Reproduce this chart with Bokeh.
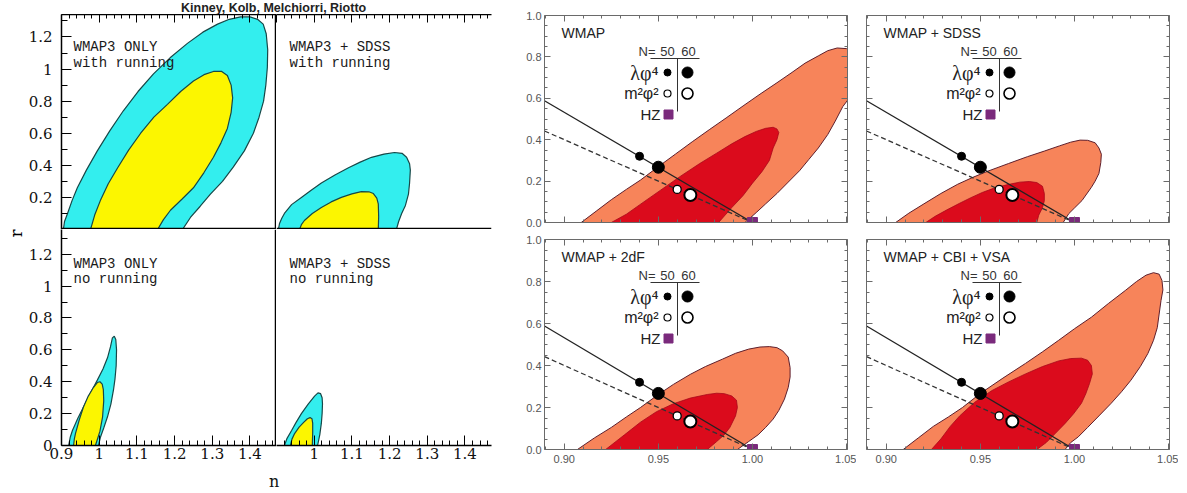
from bokeh.plotting import figure
from bokeh.layouts import row, column
from bokeh.models import (Range1d, LinearAxis, FixedTicker, CustomJSTickFormatter,
                          PrintfTickFormatter, Span, Label, Div, Title)
from bokeh.embed import file_html
from bokeh.resources import INLINE

# ---------------- LEFT BLOCK DATA (n, r) ----------------
tl_outer_n = [0.905, 0.908, 0.916, 0.928, 0.942, 0.966, 0.995, 1.028, 1.064, 1.103, 1.144, 1.188, 1.234, 1.275, 1.314, 1.345, 1.375, 1.400, 1.420, 1.435, 1.443, 1.447, 1.446, 1.442, 1.436, 1.424, 1.409, 1.385, 1.356, 1.327, 1.295, 1.268, 1.242, 1.221]
tl_outer_r = [0.0, 0.05, 0.10, 0.18, 0.26, 0.37, 0.49, 0.615, 0.74, 0.86, 0.97, 1.07, 1.16, 1.23, 1.28, 1.31, 1.325, 1.325, 1.31, 1.28, 1.22, 1.12, 1.01, 0.90, 0.80, 0.70, 0.60, 0.49, 0.39, 0.30, 0.22, 0.145, 0.075, 0.0]
tl_inner_n = [0.977, 0.988, 1.003, 1.024, 1.049, 1.078, 1.110, 1.145, 1.181, 1.216, 1.250, 1.278, 1.303, 1.325, 1.340, 1.350, 1.354, 1.350, 1.340, 1.323, 1.303, 1.278, 1.250, 1.220, 1.189, 1.170, 1.155]
tl_inner_r = [0.0, 0.09, 0.18, 0.285, 0.385, 0.495, 0.60, 0.70, 0.78, 0.86, 0.925, 0.965, 0.985, 0.985, 0.96, 0.90, 0.82, 0.73, 0.63, 0.54, 0.45, 0.355, 0.26, 0.19, 0.12, 0.06, 0.0]

tr_outer_n = [0.905, 0.908, 0.914, 0.921, 0.940, 0.966, 0.992, 1.019, 1.055, 1.091, 1.122, 1.152, 1.185, 1.213, 1.233, 1.245, 1.253, 1.255, 1.253, 1.250, 1.242, 1.232, 1.224, 1.218]
tr_outer_r = [0.0, 0.037, 0.07, 0.10, 0.155, 0.20, 0.245, 0.29, 0.34, 0.385, 0.42, 0.45, 0.47, 0.48, 0.475, 0.45, 0.41, 0.37, 0.29, 0.22, 0.15, 0.10, 0.05, 0.0]
tr_inner_n = [0.961, 0.966, 0.974, 0.995, 1.019, 1.045, 1.072, 1.100, 1.125, 1.145, 1.157, 1.166, 1.170, 1.171, 1.170]
tr_inner_r = [0.0, 0.03, 0.056, 0.10, 0.137, 0.172, 0.20, 0.222, 0.236, 0.235, 0.224, 0.195, 0.16, 0.08, 0.0]

bl_outer_n = [0.919, 0.923, 0.929, 0.943, 0.958, 0.976, 0.995, 1.010, 1.022, 1.030, 1.035, 1.040, 1.044, 1.046, 1.045, 1.042, 1.038, 1.031, 1.022, 1.012, 1.003, 0.998]
bl_outer_r = [0.0, 0.05, 0.094, 0.17, 0.24, 0.325, 0.41, 0.48, 0.55, 0.62, 0.675, 0.685, 0.665, 0.60, 0.50, 0.42, 0.35, 0.26, 0.18, 0.11, 0.05, 0.0]
bl_inner_n = [0.932, 0.934, 0.937, 0.947, 0.958, 0.971, 0.985, 0.995, 1.002, 1.008, 1.011, 1.012, 1.009, 1.002, 0.994, 0.990]
bl_inner_r = [0.0, 0.04, 0.075, 0.16, 0.24, 0.31, 0.365, 0.395, 0.40, 0.385, 0.35, 0.28, 0.18, 0.09, 0.03, 0.0]

br_outer_n = [0.921, 0.928, 0.940, 0.952, 0.966, 0.984, 1.001, 1.010, 1.017, 1.021, 1.022, 1.021, 1.019, 1.015, 1.009]
br_outer_r = [0.0, 0.045, 0.094, 0.145, 0.20, 0.26, 0.31, 0.33, 0.325, 0.30, 0.26, 0.20, 0.14, 0.07, 0.0]
br_inner_n = [0.937, 0.941, 0.948, 0.960, 0.972, 0.982, 0.989, 0.994, 0.996, 0.996, 0.995]
br_inner_r = [0.0, 0.04, 0.075, 0.115, 0.145, 0.168, 0.175, 0.168, 0.14, 0.08, 0.0]

left_labels = [("WMAP3 ONLY", "with running"), ("WMAP3 + SDSS", "with running"),
               ("WMAP3 ONLY", "no running"), ("WMAP3 + SDSS", "no running")]
left_title = "Kinney, Kolb, Melchiorri, Riotto"
left_xlabel = "n"
left_ylabel = "r"
left_x_major = [0.9, 1.0, 1.1, 1.2, 1.3, 1.4]
left_x_major_br = [1.0, 1.1, 1.2, 1.3, 1.4]
left_x_minor = [0.92, 0.94, 0.96, 0.98, 1.02, 1.04, 1.06, 1.08, 1.12, 1.14, 1.16, 1.18,
                1.22, 1.24, 1.26, 1.28, 1.32, 1.34, 1.36, 1.38, 1.42, 1.44, 1.46]
left_y_major_top = [0.2, 0.4, 0.6, 0.8, 1.0, 1.2]
left_y_major_bot = [0.0, 0.2, 0.4, 0.6, 0.8, 1.0, 1.2]
left_y_minor = [0.1, 0.3, 0.5, 0.7, 0.9, 1.1, 1.3]

# ---------------- RIGHT BLOCK DATA (n_s, r) ----------------
wmap_outer_n = [0.909, 0.917, 0.925, 0.933, 0.9405, 0.950, 0.959, 0.968, 0.977, 0.986, 0.995, 1.004, 1.013, 1.021, 1.028, 1.035, 1.040, 1.045, 1.050, 1.054, 1.057, 1.058, 1.057, 1.053, 1.048, 1.044, 1.040, 1.035, 1.030, 1.025, 1.019, 1.013, 1.007, 1.002, 0.996]
wmap_outer_r = [0.0, 0.055, 0.11, 0.16, 0.205, 0.27, 0.33, 0.39, 0.448, 0.505, 0.563, 0.62, 0.675, 0.725, 0.77, 0.805, 0.83, 0.843, 0.84, 0.82, 0.78, 0.72, 0.67, 0.62, 0.56, 0.49, 0.425, 0.36, 0.305, 0.25, 0.195, 0.14, 0.09, 0.048, 0.0]
wmap_inner_n = [0.925, 0.933, 0.940, 0.951, 0.962, 0.972, 0.981, 0.989, 0.996, 1.002, 1.007, 1.011, 1.013, 1.014, 1.013, 1.011, 1.009, 1.005, 1.000, 0.995, 0.989, 0.982]
wmap_inner_r = [0.0, 0.04, 0.085, 0.155, 0.225, 0.285, 0.335, 0.38, 0.415, 0.44, 0.455, 0.46, 0.452, 0.435, 0.40, 0.36, 0.30, 0.245, 0.19, 0.13, 0.072, 0.0]

sdss_outer_n = [0.905, 0.912, 0.920, 0.929, 0.938, 0.946, 0.954, 0.965, 0.975, 0.984, 0.992, 0.998, 1.003, 1.007, 1.011, 1.013, 1.0143, 1.014, 1.013, 1.011, 1.009, 1.004, 1.000, 0.997, 0.994]
sdss_outer_r = [0.0, 0.045, 0.09, 0.14, 0.185, 0.218, 0.248, 0.285, 0.318, 0.345, 0.37, 0.388, 0.398, 0.397, 0.385, 0.36, 0.33, 0.29, 0.237, 0.20, 0.17, 0.106, 0.07, 0.043, 0.0]
sdss_inner_n = [0.921, 0.926, 0.932, 0.939, 0.945, 0.951, 0.957, 0.964, 0.971, 0.976, 0.980, 0.983, 0.984, 0.984, 0.983, 0.981, 0.980]
sdss_inner_r = [0.0, 0.03, 0.06, 0.093, 0.12, 0.145, 0.165, 0.182, 0.195, 0.198, 0.193, 0.175, 0.14, 0.105, 0.072, 0.035, 0.0]

tdf_outer_n = [0.907, 0.916, 0.925, 0.933, 0.9405, 0.950, 0.958, 0.967, 0.975, 0.984, 0.991, 0.998, 1.004, 1.009, 1.013, 1.016, 1.019, 1.020, 1.020, 1.019, 1.017, 1.014, 1.011, 1.007, 1.003, 0.998, 0.992]
tdf_outer_r = [0.0, 0.055, 0.105, 0.155, 0.20, 0.262, 0.31, 0.358, 0.395, 0.43, 0.458, 0.478, 0.488, 0.49, 0.485, 0.47, 0.44, 0.39, 0.345, 0.295, 0.24, 0.186, 0.145, 0.105, 0.07, 0.038, 0.0]
tdf_inner_n = [0.922, 0.927, 0.932, 0.9405, 0.949, 0.958, 0.967, 0.976, 0.981, 0.985, 0.989, 0.9915, 0.992, 0.991, 0.988, 0.985, 0.981, 0.976]
tdf_inner_r = [0.0, 0.035, 0.07, 0.13, 0.18, 0.218, 0.245, 0.262, 0.268, 0.266, 0.255, 0.235, 0.20, 0.16, 0.105, 0.07, 0.038, 0.0]

cbi_outer_n = [0.909, 0.917, 0.925, 0.933, 0.9405, 0.950, 0.962, 0.974, 0.983, 0.9916, 1.000, 1.009, 1.018, 1.027, 1.033, 1.038, 1.042, 1.045, 1.0465, 1.047, 1.046, 1.045, 1.044, 1.042, 1.039, 1.035, 1.030, 1.025, 1.0195, 1.013, 1.007, 1.002, 0.998, 0.995]
cbi_outer_r = [0.0, 0.055, 0.11, 0.155, 0.20, 0.267, 0.34, 0.41, 0.465, 0.52, 0.575, 0.63, 0.695, 0.757, 0.80, 0.83, 0.842, 0.835, 0.805, 0.76, 0.71, 0.645, 0.58, 0.52, 0.457, 0.395, 0.33, 0.275, 0.22, 0.16, 0.105, 0.06, 0.033, 0.0]
cbi_inner_n = [0.924, 0.929, 0.934, 0.939, 0.947, 0.956, 0.965, 0.974, 0.983, 0.9916, 0.998, 1.0037, 1.007, 1.009, 1.0095, 1.008, 1.006, 1.0037, 0.9995, 0.995, 0.990, 0.985, 0.980]
cbi_inner_r = [0.0, 0.05, 0.11, 0.16, 0.225, 0.28, 0.322, 0.36, 0.395, 0.422, 0.433, 0.435, 0.425, 0.40, 0.36, 0.314, 0.265, 0.22, 0.17, 0.124, 0.078, 0.033, 0.0]

right_titles = ["WMAP", "WMAP + SDSS", "WMAP + 2dF", "WMAP + CBI + VSA"]

lam_line_n = [0.8895, 1.0]
lam_line_r = [0.588, 0.0]
m2_line_n = [0.8895, 1.0]
m2_line_r = [0.442, 0.0]
lam_n = [0.940, 0.950]
lam_r = [0.32, 0.267]
m2_n = [0.960, 0.967]
m2_r = [0.16, 0.133]
hz_n = [1.0]
hz_r = [0.0]
N_values = ["50", "60"]

right_x_major = [0.90, 0.95, 1.00, 1.05]
right_x_minor = [0.89, 0.91, 0.92, 0.93, 0.94, 0.96, 0.97, 0.98, 0.99, 1.01, 1.02, 1.03, 1.04]
right_y_major = [0.0, 0.2, 0.4, 0.6, 0.8, 1.0]
right_y_minor = [0.05, 0.1, 0.15, 0.25, 0.3, 0.35, 0.45, 0.5, 0.55, 0.65, 0.7, 0.75, 0.85, 0.9, 0.95]

# ---------------- styles ----------------
CYAN = "#33eeee"
YELLOW = "#fcf600"
LEDGE = "#174848"
ORANGE = "#f7845a"
RED = "#db0b1c"
REDGE = "#5e1f2c"
PURPLE = "#7a2a7c"
RGRAY = "#6a6a6a"

LXR = (0.9, 1.4703)
LTY = (0.0, 1.34)
LBY = (0.0, 1.355)
RXR = (0.8895, 1.0505)
RYR = (0.0, 1.0)

empty_fmt = CustomJSTickFormatter(code="return '';")
jsfmt = CustomJSTickFormatter(code="return tick.toString();")


def base_fig(w, h, xr, yr, bl, br, bt, bb):
    p = figure(width=w, height=h, x_range=Range1d(*xr), y_range=Range1d(*yr),
               output_backend="svg", toolbar_location=None,
               x_axis_location=None, y_axis_location=None,
               min_border_left=bl, min_border_right=br,
               min_border_top=bt, min_border_bottom=bb)
    p.xgrid.visible = False
    p.ygrid.visible = False
    p.outline_line_color = None
    p.background_fill_color = "white"
    p.border_fill_color = "white"
    return p


def add_axis(p, side, ticks, minor, labels, fmt=None, font="DejaVu Serif", size="15px",
             color="#111", line_color="black", lw=1.5, maj_in=9, min_in=5, standoff=3):
    ax = LinearAxis(ticker=FixedTicker(ticks=ticks, minor_ticks=minor))
    ax.major_tick_in = maj_in
    ax.major_tick_out = 0
    ax.minor_tick_in = min_in
    ax.minor_tick_out = 0
    ax.axis_line_color = line_color
    ax.axis_line_width = lw
    ax.major_tick_line_color = line_color
    ax.minor_tick_line_color = line_color
    ax.major_tick_line_width = 1
    ax.minor_tick_line_width = 1
    if labels:
        if fmt is not None:
            ax.formatter = fmt
        ax.major_label_text_font = font
        ax.major_label_text_font_size = size
        ax.major_label_text_color = color
        ax.major_label_standoff = standoff
    else:
        ax.formatter = empty_fmt
        ax.major_label_text_font_size = "1px"
        ax.major_label_standoff = 0
    p.add_layout(ax, side)
    return ax


def left_panel(w, h, bl, br, bb, yr, on, orr, inn, inr, labs, top_row, left_col):
    p = base_fig(w, h, LXR, yr, bl, br, 0, bb)
    p.patch(on, orr, fill_color=CYAN, line_color=LEDGE, line_width=1.2)
    p.patch(inn, inr, fill_color=YELLOW, line_color=LEDGE, line_width=1.2)
    ppx = 215 / (LXR[1] - LXR[0])
    fh = h - bb
    ppy = fh / (yr[1] - yr[0])
    x0 = LXR[0] + (12 if left_col else 13) / ppx
    off1, off2 = (24, 40) if top_row else (26, 41)
    for txt, off in ((labs[0], off1), (labs[1], off2)):
        p.add_layout(Label(x=x0, y=yr[1] - off / ppy, text=txt, text_font="Liberation Mono",
                           text_font_size="14px", text_color="#1a1a1a", text_baseline="top",
                           text_align="left"))
    ymaj = left_y_major_top if top_row else left_y_major_bot
    if left_col:
        add_axis(p, "left", ymaj, left_y_minor, True, fmt=jsfmt, maj_in=10, min_in=6, standoff=9)
        p.add_layout(Span(location=LXR[1], dimension="height", line_color="black", line_width=3.5))
    if top_row:
        add_axis(p, "above", left_x_major, left_x_minor, False, maj_in=8, min_in=4)
        p.add_layout(Span(location=yr[0], dimension="width", line_color="black", line_width=3.5))
    else:
        xt = left_x_major if left_col else left_x_major_br
        add_axis(p, "below", xt, left_x_minor, True, fmt=jsfmt, maj_in=10, min_in=5, standoff=2)
    return p


tl = left_panel(276, 215, 61, 0, 0, LTY, tl_outer_n, tl_outer_r, tl_inner_n, tl_inner_r, left_labels[0], True, True)
tr = left_panel(224, 215, 0, 9, 0, LTY, tr_outer_n, tr_outer_r, tr_inner_n, tr_inner_r, left_labels[1], True, False)
bl = left_panel(276, 245, 61, 0, 29, LBY, bl_outer_n, bl_outer_r, bl_inner_n, bl_inner_r, left_labels[2], False, True)
br = left_panel(224, 245, 0, 9, 29, LBY, br_outer_n, br_outer_r, br_inner_n, br_inner_r, left_labels[3], False, False)

# y axis label "r" as a left title at the top of the lower-left panel (page x ~10, y ~232)
bl.add_layout(Title(text=left_ylabel, align="right", text_font="DejaVu Serif", text_font_size="16px",
                    text_font_style="normal", text_color="#000000", standoff=0, offset=0), "left")

title_div = Div(text='<div style="font-family:\'Liberation Sans\';font-weight:bold;font-size:12.5px;'
                     'line-height:10px;white-space:nowrap;color:#222;">'
                     + left_title + '</div>',
                width=220, height=14, margin=(0, 0, 0, 181))
n_div = Div(text='<div style="font-family:\'DejaVu Serif\';font-size:16px;line-height:16px;'
                 'color:#111;">' + left_xlabel + '</div>',
            width=20, height=16, margin=(0, 0, 0, 269))

left_block = column(title_div, row(tl, tr), row(bl, br), n_div)


# ---------------- right block ----------------
def right_panel(ci, ri, title, on, orr, inn, inr):
    blb = 44 if ci == 0 else 10
    fw = 303
    w = blb + fw + 9
    bt, fh, bb = (15, 207, 10) if ri == 0 else (7, 210, 41)
    h = bt + fh + bb
    p = base_fig(w, h, RXR, RYR, blb, 9, bt, bb)
    p.patch(on, orr, fill_color=ORANGE, line_color=REDGE, line_width=1)
    p.patch(inn, inr, fill_color=RED, line_color="#a8081a", line_width=0.8)
    p.line(lam_line_n, lam_line_r, line_color="#222", line_width=1.3)
    p.line(m2_line_n, m2_line_r, line_color="#333", line_width=1.3, line_dash="5 3")
    p.scatter(lam_n, lam_r, size=[8, 12], fill_color="black", line_color="black")
    p.scatter(m2_n, m2_r, size=[8, 12], fill_color="white", line_color="black", line_width=[1.3, 2.0])
    p.scatter(hz_n, hz_r, marker="square", size=10, fill_color=PURPLE, line_color=PURPLE)

    add_axis(p, "left", right_y_major, right_y_minor, ci == 0, fmt=PrintfTickFormatter(format="%.1f"),
             font="Liberation Sans", size="11px", color="#555", line_color=RGRAY, lw=1,
             maj_in=6, min_in=3, standoff=3)
    add_axis(p, "right", right_y_major, right_y_minor, False, line_color=RGRAY, lw=1, maj_in=6, min_in=3)
    add_axis(p, "above", right_x_major, right_x_minor, False, line_color=RGRAY, lw=1, maj_in=6, min_in=3)
    add_axis(p, "below", right_x_major, right_x_minor, ri == 1, fmt=PrintfTickFormatter(format="%.2f"),
             font="Liberation Sans", size="11px", color="#555", line_color=RGRAY, lw=1,
             maj_in=6, min_in=3, standoff=5)

    ppx = fw / (RXR[1] - RXR[0])
    ppy = fh / (RYR[1] - RYR[0])

    def X(dx):
        return RXR[0] + dx / ppx

    def Y(dy):
        return RYR[1] - dy / ppy

    p.add_layout(Label(x=X(17), y=Y(9), text=title, text_font="Liberation Sans",
                       text_font_size="14px", text_color="#222", text_baseline="top"))
    # legend
    p.add_layout(Label(x=X(111), y=Y(36), text="N=", text_font="Liberation Sans",
                       text_font_size="13px", text_color="#333", text_align="right",
                       text_baseline="middle"))
    for val, dx in zip(N_values, (123, 144)):
        p.add_layout(Label(x=X(dx), y=Y(36), text=val, text_font="Liberation Sans",
                           text_font_size="13px", text_color="#333", text_align="center",
                           text_baseline="middle"))
    p.segment(x0=[X(106), X(133)], y0=[Y(43), Y(43)], x1=[X(155), X(133)], y1=[Y(43), Y(96)],
              line_color="#333", line_width=1)
    p.add_layout(Label(x=X(114), y=Y(57), text="λφ⁴", text_font="Liberation Serif",
                       text_font_size="20px", text_color="#222", text_align="right",
                       text_baseline="middle"))
    p.scatter([X(123), X(143)], [Y(57), Y(57)], size=[7, 11], fill_color="black", line_color="black")
    p.add_layout(Label(x=X(114), y=Y(78), text="m²φ²", text_font="Liberation Sans",
                       text_font_size="16px", text_color="#222", text_align="right",
                       text_baseline="middle"))
    p.scatter([X(123), X(143)], [Y(78), Y(78)], size=[7, 11], fill_color="white",
              line_color="black", line_width=[1.2, 1.6])
    p.add_layout(Label(x=X(116), y=Y(99), text="HZ", text_font="Liberation Sans",
                       text_font_size="15px", text_color="#222", text_align="right",
                       text_baseline="middle"))
    p.scatter([X(124)], [Y(99)], marker="square", size=9, fill_color=PURPLE, line_color=PURPLE)

    if ri == 1:
        cx = (RXR[0] + RXR[1]) / 2
        p.add_layout(Label(x=cx, y=-(32 / ppy), text="n", text_font="DejaVu Sans",
                           text_font_style="italic", text_font_size="16px", text_color="#444",
                           text_align="center", text_baseline="middle"))
        p.add_layout(Label(x=cx + 7 / ppx, y=-(35 / ppy), text="s", text_font="DejaVu Sans",
                           text_font_style="italic", text_font_size="10px", text_color="#444",
                           text_align="center", text_baseline="middle"))
    return p


p_wmap = right_panel(0, 0, right_titles[0], wmap_outer_n, wmap_outer_r, wmap_inner_n, wmap_inner_r)
p_sdss = right_panel(1, 0, right_titles[1], sdss_outer_n, sdss_outer_r, sdss_inner_n, sdss_inner_r)
p_2df = right_panel(0, 1, right_titles[2], tdf_outer_n, tdf_outer_r, tdf_inner_n, tdf_inner_r)
p_cbi = right_panel(1, 1, right_titles[3], cbi_outer_n, cbi_outer_r, cbi_inner_n, cbi_inner_r)

right_block = row(column(p_wmap, p_2df), column(p_sdss, p_cbi))

layout = row(left_block, right_block)

open("out.html", "w").write(file_html(layout, INLINE))
